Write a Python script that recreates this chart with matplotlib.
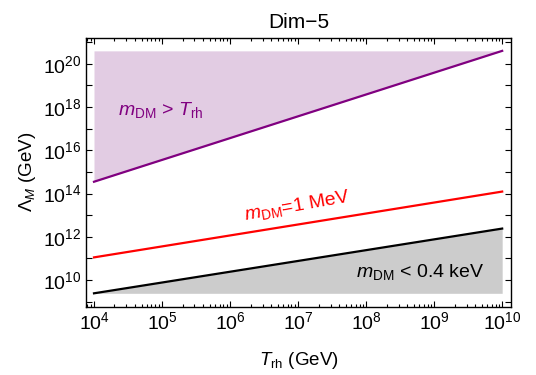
import matplotlib
matplotlib.use("Agg")
import matplotlib.pyplot as plt
import matplotlib.ticker as mticker
import numpy as np

plt.rcParams['font.family'] = ['Liberation Sans', 'DejaVu Sans']
plt.rcParams['mathtext.fontset'] = 'custom'
plt.rcParams['mathtext.rm'] = 'Liberation Sans'
plt.rcParams['mathtext.it'] = 'Liberation Sans:italic'
plt.rcParams['mathtext.bf'] = 'Liberation Sans:bold'

# Data (reheating temperature endpoints, GeV)
T_rh = [1e4, 1e10]
lam_mdm_gt_trh = [3.5e14, 3.9e20]   # m_DM = T_rh boundary
lam_1mev = [1.12e11, 1.23e14]       # m_DM = 1 MeV
lam_04kev = [2.45e9, 2.4e12]        # m_DM = 0.4 keV
x_ticks = [1e4, 1e5, 1e6, 1e7, 1e8, 1e9, 1e10]

purple = '#800080'
fig = plt.figure(figsize=(5.36, 3.75), dpi=100)
ax = fig.add_axes([0.1604, 0.1821, 0.793, 0.7174])

T = np.array(T_rh)
p = np.array(lam_mdm_gt_trh)
r = np.array(lam_1mev)
k = np.array(lam_04kev)

ax.fill_between(T, p, p.max(), color='#e2cce3', lw=0)
ax.fill_between(T, k.min(), k, color='#cccccc', lw=0)
ax.plot(T, p, color=purple, lw=1.6)
ax.plot(T, r, color='red', lw=1.6)
ax.plot(T, k, color='black', lw=1.6)

ax.set_xscale('log')
ax.set_yscale('log')
ax.set_xlim(10**3.882, 10**10.13)
ax.set_ylim(10**8.77, 10**21.2)

ax.xaxis.set_major_locator(mticker.FixedLocator(x_ticks))
ax.xaxis.set_minor_locator(mticker.LogLocator(base=10, subs=np.arange(2, 10), numticks=20))
ax.xaxis.set_minor_formatter(mticker.NullFormatter())
ax.yaxis.set_major_locator(mticker.FixedLocator([10.0**e for e in range(9, 22)]))
ax.yaxis.set_minor_locator(mticker.NullLocator())

def yfmt(v, pos):
    e = int(round(np.log10(v)))
    return r'$10^{%d}$' % e if e % 2 == 0 else ''

def xfmt(v, pos):
    e = int(round(np.log10(v)))
    return r'$10^{%d}$' % e

ax.yaxis.set_major_formatter(mticker.FuncFormatter(yfmt))
ax.xaxis.set_major_formatter(mticker.FuncFormatter(xfmt))

ax.tick_params(which='both', direction='in', top=True, right=True, labelsize=14, width=0.8)
ax.tick_params(which='major', length=4)
ax.tick_params(which='minor', length=2)
for s in ax.spines.values():
    s.set_linewidth(1.0)

ax.set_title('Dim\u22125', fontsize=15, pad=7)
ax.set_ylabel(r'$\Lambda_M$ (GeV)', fontsize=13.5, labelpad=3)
ax.set_xlabel(r'$T_{\rm rh}$ (GeV)', fontsize=13.5, labelpad=12)

ax.text(10**4.35, 10**17.86, r'$m_{\rm DM}$ > $T_{\rm rh}$', color=purple, fontsize=14, ha='left', va='center')
ax.text(10**6.99, 10**13.45, r'$m_{\rm DM}$=1 MeV', color='red', fontsize=14, ha='center', va='center', rotation=10, rotation_mode='anchor')
ax.text(10**8.79, 10**10.37, r'$m_{\rm DM}$ < 0.4 keV', color='black', fontsize=14, ha='center', va='center')

fig.savefig('out.png', dpi=100)
